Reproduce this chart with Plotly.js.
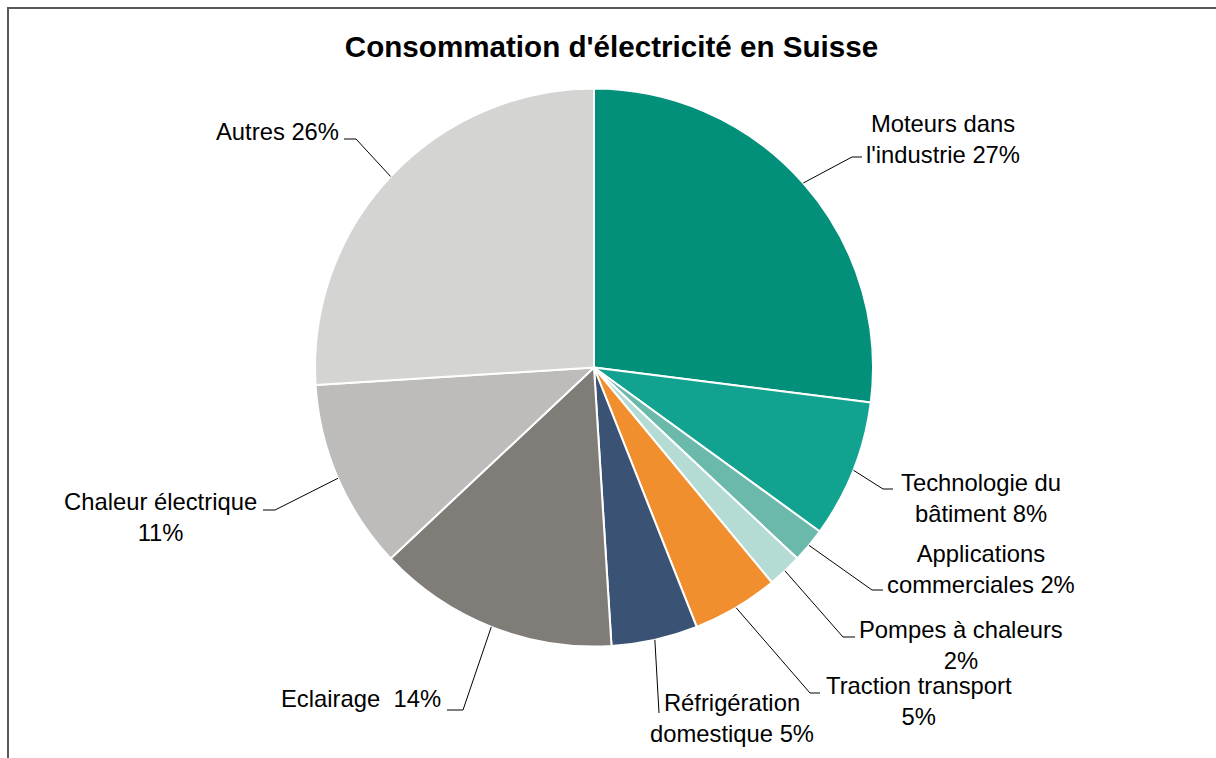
<!DOCTYPE html>
<html><head><meta charset="utf-8">
<script src="https://cdn.plot.ly/plotly-3.0.1.min.js"></script>
<style>
body{margin:0;background:#fff;}
#wrap{position:relative;width:1216px;height:758px;overflow:hidden;}
#frame{position:absolute;left:7px;top:7px;width:1300px;height:900px;border-left:2px solid #595959;border-top:2px solid #595959;pointer-events:none;}
</style>
</head><body>
<div id="wrap"><div id="chart" style="width:1216px;height:758px;"></div><div id="frame"></div></div>
<script>
// ---- data ----
const categories = ["Moteurs dans l'industrie","Technologie du bâtiment","Applications commerciales","Pompes à chaleurs","Traction transport","Réfrigération domestique","Eclairage","Chaleur électrique","Autres"];
const values = [27, 8, 2, 2, 5, 5, 14, 11, 26];
const colors = ["#02907B","#11A38F","#6AB9AA","#B4DCD5","#F18E2D","#3A5375","#807C78","#BDBCBA","#D4D4D3"];
const labelTemplates = ["Moteurs dans<br>l'industrie {p}%","Technologie du<br>bâtiment {p}%","Applications<br>commerciales {p}%","Pompes à chaleurs<br>{p}%","Traction transport<br>{p}%","Réfrigération<br>domestique {p}%","Eclairage\u00a0 {p}%","Chaleur électrique<br>{p}%","Autres {p}%"];
const titleText = "Consommation d'électricité en Suisse";

// ---- layout (pixels) ----
const W = 1216, H = 758, CX = 594, CY = 367.5, R = 279;
const labelPos = [[943,139],[981,498],[981,569],[961,645],[919,701],[732,718],[361,698],[160,517],[277,131]];
const elbows = [[852,157,862,157],[883,489,893,489],[872,590,883,590],[843,637,855,637],[810,693,820,693],[659,713,659,713],[463,710,447,710],[275,510,263,510],[356,139,344,139]];

const px = x => x / W, py = y => 1 - y / H;
const total = values.reduce((a,b)=>a+b,0);

const shapes = [], annotations = [];
let cum = 0;
values.forEach((v,i)=>{
  const mid = (cum + v/2) / total; cum += v;
  const th = 2*Math.PI*mid;
  const sx = CX + R*Math.sin(th), sy = CY - R*Math.cos(th);
  const e = elbows[i];
  shapes.push({type:'path', xref:'paper', yref:'paper',
    path:`M ${px(sx)},${py(sy)} L ${px(e[0])},${py(e[1])} L ${px(e[2])},${py(e[3])}`,
    line:{color:'#000', width:1}});
  annotations.push({xref:'paper', yref:'paper', x:px(labelPos[i][0]), y:py(labelPos[i][1]),
    xanchor:'center', yanchor:'middle', align:'center', showarrow:false,
    text: labelTemplates[i].replace('{p}', Math.round(v/total*100)),
    font:{family:'Liberation Sans, Arial, sans-serif', size:23.8, color:'#000'}});
});

const trace = {type:'pie', labels:categories, values:values, sort:false, direction:'clockwise', rotation:0,
  marker:{colors:colors, line:{color:'#fff', width:2}}, textinfo:'none', hoverinfo:'label+percent',
  domain:{x:[px(CX-R), px(CX+R)], y:[py(CY+R), py(CY-R)]}, showlegend:false};

Plotly.newPlot('chart',[trace],{
  width:W, height:H, margin:{l:0,r:0,t:0,b:0}, paper_bgcolor:'#fff', showlegend:false,
  title:{text:'<b>'+titleText+'</b>', x:611.5/W, xanchor:'center', y:py(47), yanchor:'middle',
    font:{family:'Liberation Sans, Arial, sans-serif', size:29.6, color:'#000'}},
  shapes:shapes, annotations:annotations
},{displayModeBar:false, staticPlot:true});
</script>
</body></html>
